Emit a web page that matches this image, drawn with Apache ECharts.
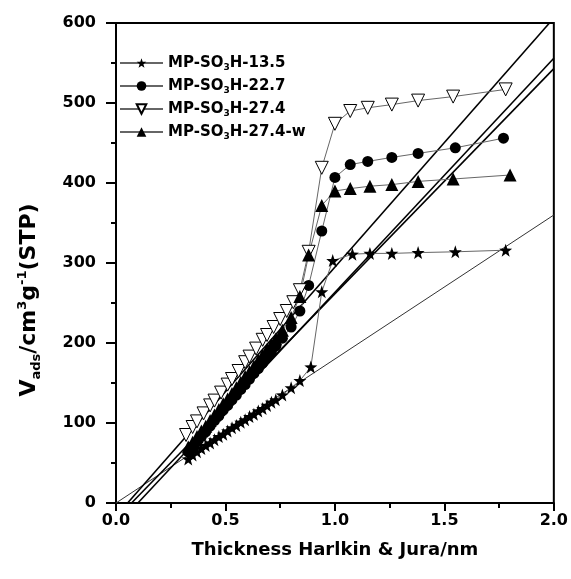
<!DOCTYPE html>
<html>
<head>
<meta charset="utf-8">
<script src="https://cdn.jsdelivr.net/npm/echarts@6/dist/echarts.min.js"></script>
<style>
  html, body { margin: 0; padding: 0; background: #fff; }
  #chart { width: 571px; height: 579px; }
</style>
</head>
<body>
<div id="chart"></div>
<script>
// values
const seriesNames = ['MP-SO3H-13.5', 'MP-SO3H-22.7', 'MP-SO3H-27.4', 'MP-SO3H-27.4-w'];

const x135 = [0.33, 0.35, 0.37, 0.39, 0.41, 0.43, 0.45, 0.47, 0.49, 0.51, 0.53, 0.55, 0.57, 0.59, 0.61, 0.63, 0.65, 0.67, 0.69, 0.71, 0.73, 0.76, 0.80, 0.84, 0.89, 0.94, 0.99, 1.08, 1.16, 1.26, 1.38, 1.55, 1.78];
const y135 = [55, 60, 64, 68, 72, 75, 79, 83, 86, 90, 94, 97, 101, 104, 108, 111, 115, 118, 122, 126, 129, 135, 144, 153, 170, 264, 303, 311, 312, 312, 313, 314, 316];

const x227 = [0.33, 0.35, 0.37, 0.39, 0.41, 0.43, 0.45, 0.47, 0.49, 0.51, 0.53, 0.55, 0.57, 0.59, 0.61, 0.63, 0.65, 0.67, 0.69, 0.71, 0.73, 0.76, 0.80, 0.84, 0.88, 0.94, 1.00, 1.07, 1.15, 1.26, 1.38, 1.55, 1.77];
const y227 = [64, 70, 76, 83, 89, 96, 103, 109, 116, 122, 129, 135, 142, 148, 155, 162, 168, 175, 182, 189, 196, 206, 220, 240, 272, 340, 407, 423, 427, 432, 437, 444, 456];

const x274 = [0.32, 0.35, 0.37, 0.40, 0.43, 0.45, 0.48, 0.51, 0.53, 0.56, 0.59, 0.61, 0.64, 0.67, 0.69, 0.72, 0.75, 0.78, 0.81, 0.84, 0.88, 0.94, 1.00, 1.07, 1.15, 1.26, 1.38, 1.54, 1.78];
const y274 = [85, 95, 102, 112, 122, 128, 138, 148, 155, 165, 176, 183, 193, 204, 210, 220, 230, 240, 251, 266, 314, 419, 474, 490, 494, 498, 503, 508, 517];

const x274w = [0.33, 0.35, 0.37, 0.39, 0.41, 0.43, 0.45, 0.47, 0.49, 0.51, 0.53, 0.55, 0.57, 0.59, 0.61, 0.63, 0.65, 0.67, 0.69, 0.71, 0.73, 0.76, 0.80, 0.84, 0.88, 0.94, 1.00, 1.07, 1.16, 1.26, 1.38, 1.54, 1.80];
const y274w = [70, 76, 83, 90, 96, 103, 110, 117, 124, 130, 137, 144, 151, 158, 164, 171, 178, 185, 192, 198, 205, 216, 232, 258, 310, 372, 390, 393, 396, 398, 402, 405, 410];

// t-plot fit lines: [x, y] end points
const fitA = [[0.053, 0], [1.98, 600]];
const fitB = [[0.10, 0], [2.0, 556]];
const fitC = [[0.071, 0], [2.0, 543]];
const fitThin = [[0.0, 0], [2.0, 360]];

const xTicks = [0, 0.5, 1.0, 1.5, 2.0];
const yTicks = [0, 100, 200, 300, 400, 500, 600];

const font = 'DejaVu Sans';
const starPath = 'path://M0,-10 L2.35,-3.24 L9.51,-3.09 L3.8,1.24 L5.88,8.09 L0,4 L-5.88,8.09 L-3.8,1.24 L-9.51,-3.09 L-2.35,-3.24 Z';

function zip (xs, ys) {
  return xs.map((x, i) => [x, ys[i]]);
}

function fitLine (pts, width, color) {
  return {
    type: 'line',
    data: pts,
    symbol: 'none',
    silent: true,
    z: 1,
    lineStyle: { color: color, width: width }
  };
}

function dataSeries (name, pts, symbol, size, itemStyle, rotate) {
  return {
    name: name,
    type: 'line',
    data: pts,
    symbol: symbol,
    symbolSize: size,
    symbolRotate: rotate || 0,
    showAllSymbol: true,
    z: 3,
    itemStyle: itemStyle,
    lineStyle: { color: '#666', width: 1 }
  };
}

var chart = echarts.init(document.getElementById('chart'));

var option = {
  backgroundColor: '#fff',
  animation: false,
  grid: {
    left: 116, right: 16, top: 23, bottom: 76,
    show: true, borderColor: '#000', borderWidth: 2
  },
  legend: {
    data: seriesNames,
    orient: 'vertical',
    left: 114,
    top: 49,
    itemWidth: 43,
    itemHeight: 12,
    itemGap: 5,
    formatter: function (name) {
      let parts = name.split('3H');
      return '{t|' + parts[0] + '}{s|3}{t|H' + parts[1] + '}';
    },
    textStyle: {
      rich: {
        t: { fontFamily: font, fontWeight: 'bold', fontSize: 15, color: '#000', lineHeight: 18 },
        s: { fontFamily: font, fontWeight: 'bold', fontSize: 9, color: '#000', lineHeight: 10, padding: [9, 0, 0, 0] }
      }
    }
  },
  xAxis: {
    type: 'value',
    min: 0,
    max: 2,
    interval: 0.5,
    name: 'Thickness Harlkin & Jura/nm',
    nameLocation: 'middle',
    nameGap: 38,
    nameTextStyle: { fontFamily: font, fontWeight: 'bold', fontSize: 18, color: '#000' },
    axisLine: { lineStyle: { color: '#000', width: 2 } },
    axisTick: { inside: false, length: 8, lineStyle: { color: '#000', width: 2 } },
    minorTick: { show: true, splitNumber: 2, length: 5, lineStyle: { color: '#000', width: 2 } },
    splitLine: { show: false },
    axisLabel: {
      margin: 10,
      fontFamily: font, fontWeight: 'bold', fontSize: 16, color: '#000',
      formatter: function (v) { return xTicks.indexOf(v) >= 0 ? v.toFixed(1) : ''; }
    }
  },
  yAxis: {
    type: 'value',
    min: 0,
    max: 600,
    interval: 100,
    name: '{t|V}{s|ads}{t|/cm}{p|3}{t|g}{p|-1}{t|(STP)}',
    nameLocation: 'middle',
    nameGap: 73,
    nameTextStyle: {
      padding: [0, 74, 0, 0],
      rich: {
        t: { fontFamily: font, fontWeight: 'bold', fontSize: 22, color: '#000', lineHeight: 27 },
        s: { fontFamily: font, fontWeight: 'bold', fontSize: 13, color: '#000', lineHeight: 13, padding: [14, 0, 0, 0] },
        p: { fontFamily: font, fontWeight: 'bold', fontSize: 13, color: '#000', lineHeight: 13, padding: [0, 0, 14, 0] }
      }
    },
    axisLine: { lineStyle: { color: '#000', width: 2 } },
    axisTick: { inside: false, length: 10, lineStyle: { color: '#000', width: 2 } },
    minorTick: { show: true, splitNumber: 2, length: 5, lineStyle: { color: '#000', width: 2 } },
    splitLine: { show: false },
    axisLabel: {
      margin: 20,
      fontFamily: font, fontWeight: 'bold', fontSize: 16, color: '#000',
      formatter: function (v) { return yTicks.indexOf(v) >= 0 ? String(v) : ''; }
    }
  },
  series: [
    fitLine(fitThin, 1, '#333'),
    fitLine(fitA, 1.6, '#000'),
    fitLine(fitB, 1.6, '#000'),
    fitLine(fitC, 1.6, '#000'),
    dataSeries(seriesNames[0], zip(x135, y135), starPath, 13, { color: '#000' }),
    dataSeries(seriesNames[1], zip(x227, y227), 'circle', 11, { color: '#000' }),
    dataSeries(seriesNames[2], zip(x274, y274), 'triangle', 13, { color: '#fff', borderColor: '#000', borderWidth: 1 }, 180),
    dataSeries(seriesNames[3], zip(x274w, y274w), 'triangle', 13, { color: '#000' })
  ]
};

chart.setOption(option);
</script>
</body>
</html>
